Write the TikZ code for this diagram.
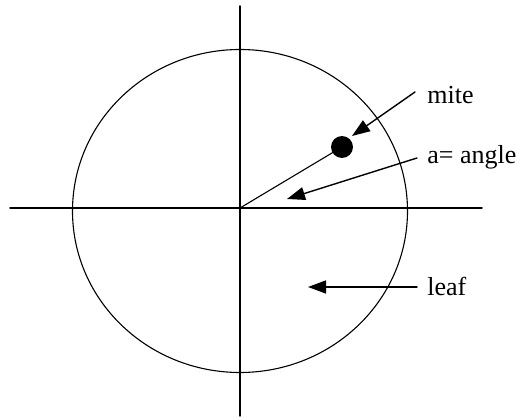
\documentclass[tikz,border=0pt]{standalone}
\usepackage{fontspec}
\setmainfont{Liberation Serif}
\usetikzlibrary{arrows.meta}

\begin{document}
\begin{tikzpicture}[
  x=0.5pt, y=-0.5pt,
  >={Triangle[length=9pt,width=6.5pt]},
  line cap=round,
  line join=round,
  every node/.style={font=\fontsize{13}{15}\selectfont},
  lbl/.style={anchor=west, inner sep=0pt}
]
  \useasboundingbox (0,0) rectangle (521,417);

  \coordinate (o)  at (240,208);
  \coordinate (n)  at (240,6);
  \coordinate (s)  at (240,416);
  \coordinate (w)  at (10,208);
  \coordinate (e)  at (482,208);

  % axes and the leaf outline
  \draw[line width=0.75pt] (n) -- (s);
  \draw[line width=0.75pt] (w) -- (e);
  \draw[line width=0.55pt] (240,211) ellipse [x radius=167.5, y radius=161.5];

  % the mite on its ray
  \node[circle, fill=black, inner sep=0pt, minimum size=11pt] (mite) at (342,147) {};
  \draw[line width=0.55pt] (o) -- (mite.center);

  \node[lbl] (mitelbl)  at (427,95)  {mite};
  \node[lbl] (anglelbl) at (427,157) {a= angle};
  \node[lbl] (leaflbl)  at (427,286) {leaf};

  \coordinate (mitetip)  at (352,136);
  \coordinate (angletip) at (287,199);
  \coordinate (leaftip)  at (308,287);

  \draw[->, line width=0.7pt] ([shift={(-12,-3)}]mitelbl.west) -- (mitetip);
  \draw[->, line width=0.7pt] ([shift={(-10,1)}]anglelbl.west) -- (angletip);
  \draw[->, line width=0.7pt] ([shift={(-10,1)}]leaflbl.west) -- (leaftip);
\end{tikzpicture}
\end{document}
